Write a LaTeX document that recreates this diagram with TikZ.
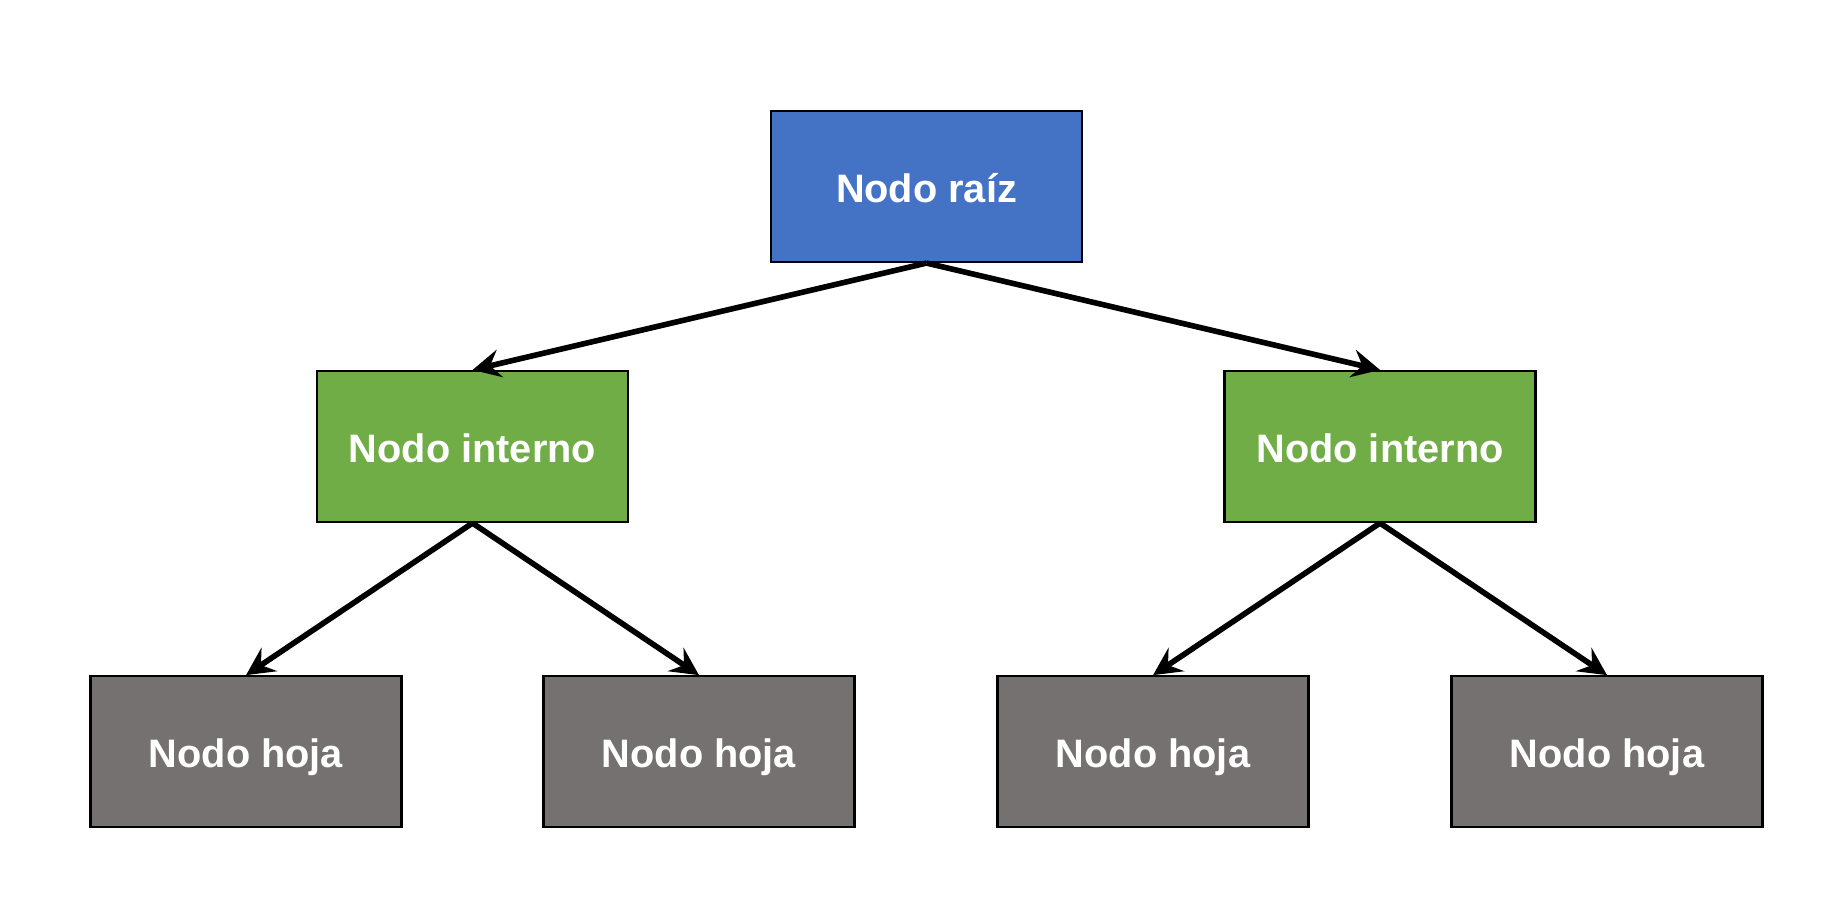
\documentclass[tikz,border=0pt]{standalone}
\usepackage{fontspec}
\setmainfont{Liberation Sans}
\usetikzlibrary{arrows.meta}
\definecolor{raizblue}{HTML}{4472C4}
\definecolor{internogreen}{HTML}{70AD47}
\definecolor{hojagray}{HTML}{767171}
\begin{document}
\begin{tikzpicture}[
    box/.style={draw=black,line width=0.6pt,minimum width=3.11cm,minimum height=1.51cm,
      inner sep=0pt,text height=9.1pt,text depth=0pt,text=white,
      font=\fontsize{11.3}{13}\selectfont\bfseries},
    link/.style={line width=1.6pt,-{Stealth[length=0.28cm,width=0.28cm,inset=0.1cm]}}]
      \useasboundingbox (0,0) rectangle (18.43,-9.01);
      % nodes
      \node [box,fill=raizblue] (raiz) at (9.265,-1.865) {Nodo raíz};
      \node [box,fill=internogreen] (intA) at (4.725,-4.465) {Nodo interno};
      \node [box,fill=internogreen] (intB) at (13.80,-4.465) {Nodo interno};
      \node [box,fill=hojagray] (hojaA) at (2.46,-7.517) {Nodo hoja};
      \node [box,fill=hojagray] (hojaB) at (6.99,-7.517) {Nodo hoja};
      \node [box,fill=hojagray] (hojaC) at (11.53,-7.517) {Nodo hoja};
      \node [box,fill=hojagray] (hojaD) at (16.07,-7.517) {Nodo hoja};
      % links
      \draw [link] (raiz.south) -- (intA.north);
      \draw [link] (raiz.south) -- (intB.north);
      \draw [link] (intA.south) -- (hojaA.north);
      \draw [link] (intA.south) -- (hojaB.north);
      \draw [link] (intB.south) -- (hojaC.north);
      \draw [link] (intB.south) -- (hojaD.north);
\end{tikzpicture}
\end{document}
